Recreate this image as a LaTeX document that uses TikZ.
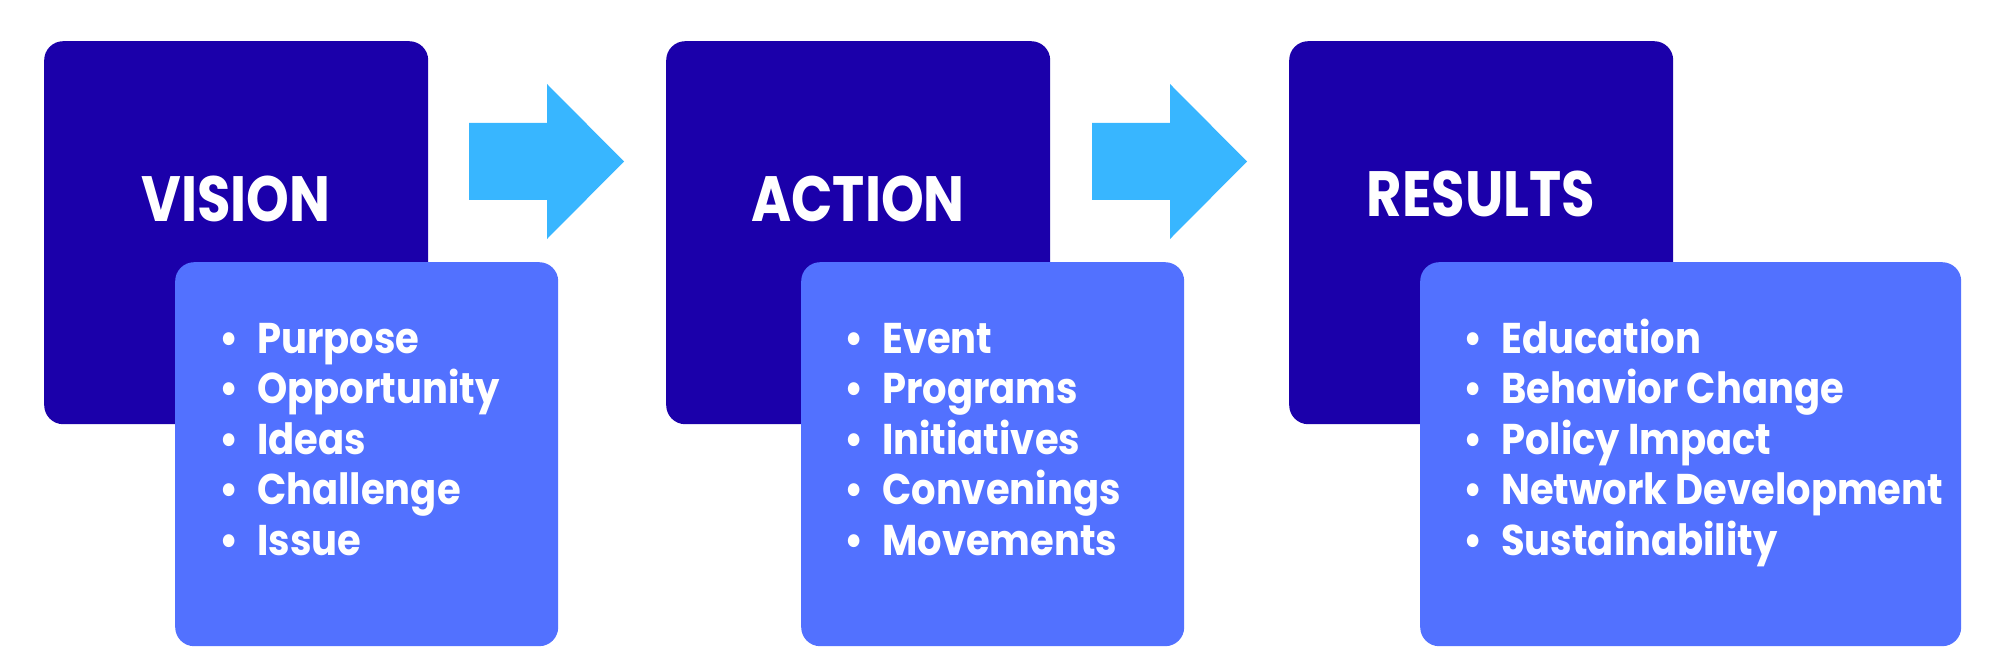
\documentclass[tikz,border=0pt]{standalone}
\usepackage{fontspec}
\newfontfamily\titlefont{Poppins}[FakeStretch=0.85]
\newfontfamily\listfont{Poppins}[FakeStretch=0.895]
\definecolor{darkbox}{HTML}{1B00AA}
\definecolor{lightbox}{HTML}{5271FF}
\definecolor{arrowc}{HTML}{38B6FF}
\tikzset{
  darkrect/.style={draw=none, fill=darkbox, rounded corners=19pt, inner sep=0pt, anchor=north west, minimum width=384pt, minimum height=383pt},
  lightrect/.style={draw=none, fill=lightbox, rounded corners=19pt, inner sep=0pt, anchor=north west, minimum height=384pt},
  titletext/.style={anchor=base, inner sep=0pt, text=white, font=\titlefont\bfseries\fontsize{64}{64}\selectfont},
  itemtext/.style={anchor=base west, inner sep=0pt, text=white, font=\listfont\bfseries\fontsize{43}{50}\selectfont},
  blockarrow/.style={fill=arrowc, draw=none}
}
\newcommand{\bul}{\makebox[38pt][l]{•}}
\begin{document}
\begin{tikzpicture}[x=1pt,y=-1pt]
\useasboundingbox (0,0) rectangle (1999,671);
% boxes
\node[darkrect] (d1) at (44,41) {};
\node[lightrect, minimum width=383pt] (l1) at (175,262) {};
\node[darkrect] (d2) at (666,41) {};
\node[lightrect, minimum width=383pt] (l2) at (801,262) {};
\node[darkrect] (d3) at (1289,41) {};
\node[lightrect, minimum width=541pt] (l3) at (1420,262) {};
% titles
\node[titletext] (t1) at (236,222) {VISION};
\node[titletext] (t2) at (858,222) {ACTION};
\node[titletext] (t3) at (1481,217) {RESULTS};
% items
\foreach \t [count=\i] in {Purpose, Opportunity, Ideas, Challenge, Issue}
  \node[itemtext] (a\i) at (219,{353+50.5*(\i-1)}) {\bul\t};
\foreach \t [count=\i] in {Event, Programs, Initiatives, Convenings, Movements}
  \node[itemtext] (b\i) at (844,{353+50.5*(\i-1)}) {\bul\t};
\foreach \t [count=\i] in {Education, Behavior Change, Policy Impact, Network Development, Sustainability}
  \node[itemtext] (c\i) at (1463,{353+50.5*(\i-1)}) {\bul\t};
% arrows
\fill[blockarrow] (469,123) -- (547,123) -- (547,84) -- (624,161.5) -- (547,239) -- (547,200) -- (469,200) -- cycle;
\fill[blockarrow] (1092,123) -- (1170,123) -- (1170,84) -- (1247,161.5) -- (1170,239) -- (1170,200) -- (1092,200) -- cycle;
\end{tikzpicture}
\end{document}
